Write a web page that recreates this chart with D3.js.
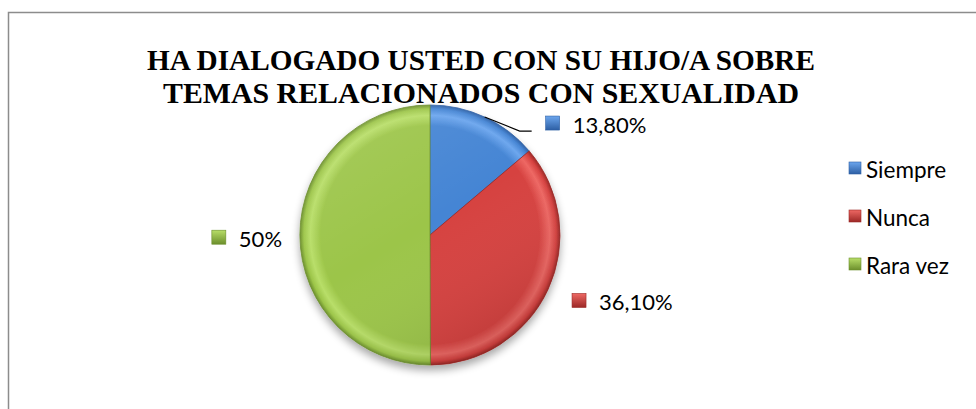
<!DOCTYPE html>
<html lang="es">
<head>
<meta charset="UTF-8">
<title>Ha dialogado usted con su hijo/a sobre temas relacionados con sexualidad</title>
<script src="https://d3js.org/d3.v7.min.js"></script>
<style>
    body { margin: 0; background: #fff; }
    svg { display: block; }
</style>
</head>
<body>
<svg id="vis"></svg>
<script>
    const width = 976;
    const height = 409;

    // data
    const categories = ["Siempre", "Nunca", "Rara vez"];
    const values = [13.8, 36.1, 50];
    const valueLabels = ["13,80%", "36,10%", "50%"];
    const titleLines = ["HA DIALOGADO USTED CON SU HIJO/A SOBRE", "TEMAS RELACIONADOS CON SEXUALIDAD"];

    // look
    const baseColors = ["#4585d4", "#d64240", "#9cc548"];
    const darkColors = ["#2d5fa4", "#9c2826", "#6c8f2c"];
    const lightColors = ["#6ca6ee", "#ee6864", "#b8de68"];
    // label nudges from the slice edge point (Excel "best fit" placement)
    const labelNudge = [[61, 6], [24, 11], [-18, 2]];
    // title widths as drawn in the original (narrow serif)
    const titleWidths = [668, 636];

    const svg = d3.select("#vis").attr("width", width).attr("height", height);
    const defs = svg.append("defs");

    const shadow = defs.append("filter").attr("id", "shadow")
        .attr("x", "-20%").attr("y", "-20%").attr("width", "140%").attr("height", "150%");
    shadow.append("feGaussianBlur").attr("in", "SourceAlpha").attr("stdDeviation", 4);
    shadow.append("feOffset").attr("dy", 5).attr("result", "b");
    shadow.append("feComponentTransfer").append("feFuncA").attr("type", "linear").attr("slope", 0.35);
    const merge = shadow.append("feMerge");
    merge.append("feMergeNode");
    merge.append("feMergeNode").attr("in", "SourceGraphic");

    // soft top-left light over the whole pie
    const light = defs.append("linearGradient").attr("id", "light")
        .attr("x1", 0).attr("y1", 0).attr("x2", 0.6).attr("y2", 1);
    light.append("stop").attr("offset", "0%").attr("stop-color", "#fff").attr("stop-opacity", 0.12);
    light.append("stop").attr("offset", "55%").attr("stop-color", "#fff").attr("stop-opacity", 0);
    light.append("stop").attr("offset", "100%").attr("stop-color", "#000").attr("stop-opacity", 0.1);

    baseColors.forEach((c, i) => {
        const g = defs.append("radialGradient").attr("id", "slice" + i)
            .attr("gradientUnits", "userSpaceOnUse")
            .attr("cx", 0).attr("cy", 0).attr("r", 130);
        g.append("stop").attr("offset", "0%").attr("stop-color", c);
        g.append("stop").attr("offset", "84%").attr("stop-color", c);
        g.append("stop").attr("offset", "92%").attr("stop-color", lightColors[i]);
        g.append("stop").attr("offset", "97%").attr("stop-color", c);
        g.append("stop").attr("offset", "100%").attr("stop-color", darkColors[i]);

        const m = defs.append("linearGradient").attr("id", "mark" + i)
            .attr("x1", 0).attr("y1", 0).attr("x2", 0).attr("y2", 1);
        m.append("stop").attr("offset", "0%").attr("stop-color", lightColors[i]);
        m.append("stop").attr("offset", "100%").attr("stop-color", darkColors[i]);
    });

    // chart frame
    svg.append("rect")
        .attr("x", 8.5).attr("y", 12.5)
        .attr("width", 1100).attr("height", 600)
        .attr("fill", "#fff")
        .attr("stroke", "#8c8c8c")
        .attr("stroke-width", 1.5);

    // title
    svg.append("g")
        .selectAll("text")
        .data(titleLines)
        .join("text")
        .attr("x", 481)
        .attr("y", (d, i) => 70 + i * 33)
        .attr("text-anchor", "middle")
        .attr("font-family", "'Liberation Serif', 'Times New Roman', serif")
        .attr("font-weight", "bold")
        .attr("font-size", 29.5)
        .attr("textLength", (d, i) => titleWidths[i])
        .attr("lengthAdjust", "spacingAndGlyphs")
        .attr("fill", "#000")
        .text(d => d);

    // pie
    const cx = 430, cy = 235, radius = 130;
    const pie = d3.pie().sort(null).value(d => d);
    const arcs = pie(values);
    const arc = d3.arc().innerRadius(0).outerRadius(radius);

    const g = svg.append("g").attr("transform", `translate(${cx},${cy})`);
    const slices = g.append("g").attr("filter", "url(#shadow)");
    slices.selectAll("path")
        .data(arcs)
        .join("path")
        .attr("d", arc)
        .attr("fill", (d, i) => `url(#slice${i})`)
        .attr("stroke", (d, i) => darkColors[i])
        .attr("stroke-width", 0.8);
    g.append("circle")
        .attr("r", radius)
        .attr("fill", "url(#light)")
        .attr("pointer-events", "none");

    // data labels
    const edge = d => {
        const a = (d.startAngle + d.endAngle) / 2;
        return [Math.sin(a) * radius, -Math.cos(a) * radius];
    };
    const markSize = 14, gap = 13;
    const labelFont = "Lato, 'Open Sans', sans-serif";
    const labelSize = 22;

    arcs.forEach((d, i) => {
        const p = edge(d);
        const lx = p[0] + labelNudge[i][0];
        const ly = p[1] + labelNudge[i][1];
        const lab = g.append("g");
        const t = lab.append("text")
            .attr("font-family", labelFont)
            .attr("font-size", labelSize)
            .attr("dominant-baseline", "central")
            .attr("fill", "#000")
            .text(valueLabels[i]);
        const tw = t.node().getComputedTextLength();
        let mx;
        if (p[0] >= 0) {
            mx = lx;
        } else {
            mx = lx - tw - gap - markSize;
        }
        t.attr("x", mx + markSize + gap).attr("y", ly + 1);
        lab.append("rect")
            .attr("x", mx).attr("y", ly - markSize / 2)
            .attr("width", markSize).attr("height", markSize)
            .attr("fill", `url(#mark${i})`)
            .attr("stroke", darkColors[i])
            .attr("stroke-width", 0.6);

        // leader line for the small slice
        if (i === 0) {
            g.append("path")
                .attr("d", d3.line()([p, [mx - 26, ly + 8], [mx - 14, ly + 8]]))
                .attr("fill", "none")
                .attr("stroke", "#000")
                .attr("stroke-width", 1.2);
        }
    });

    // legend
    const legendY = d3.scalePoint().domain(categories).range([168, 264]);
    const legend = svg.append("g");
    const item = legend.selectAll("g")
        .data(categories)
        .join("g")
        .attr("transform", d => `translate(849,${legendY(d)})`);
    item.append("rect")
        .attr("x", 0).attr("y", -6)
        .attr("width", 12).attr("height", 12)
        .attr("fill", (d, i) => `url(#mark${i})`)
        .attr("stroke", (d, i) => darkColors[i])
        .attr("stroke-width", 0.6);
    item.append("text")
        .attr("x", 17)
        .attr("y", 1)
        .attr("dominant-baseline", "central")
        .attr("font-family", labelFont)
        .attr("font-size", 22.5)
        .attr("fill", "#000")
        .text(d => d);
</script>
</body>
</html>
